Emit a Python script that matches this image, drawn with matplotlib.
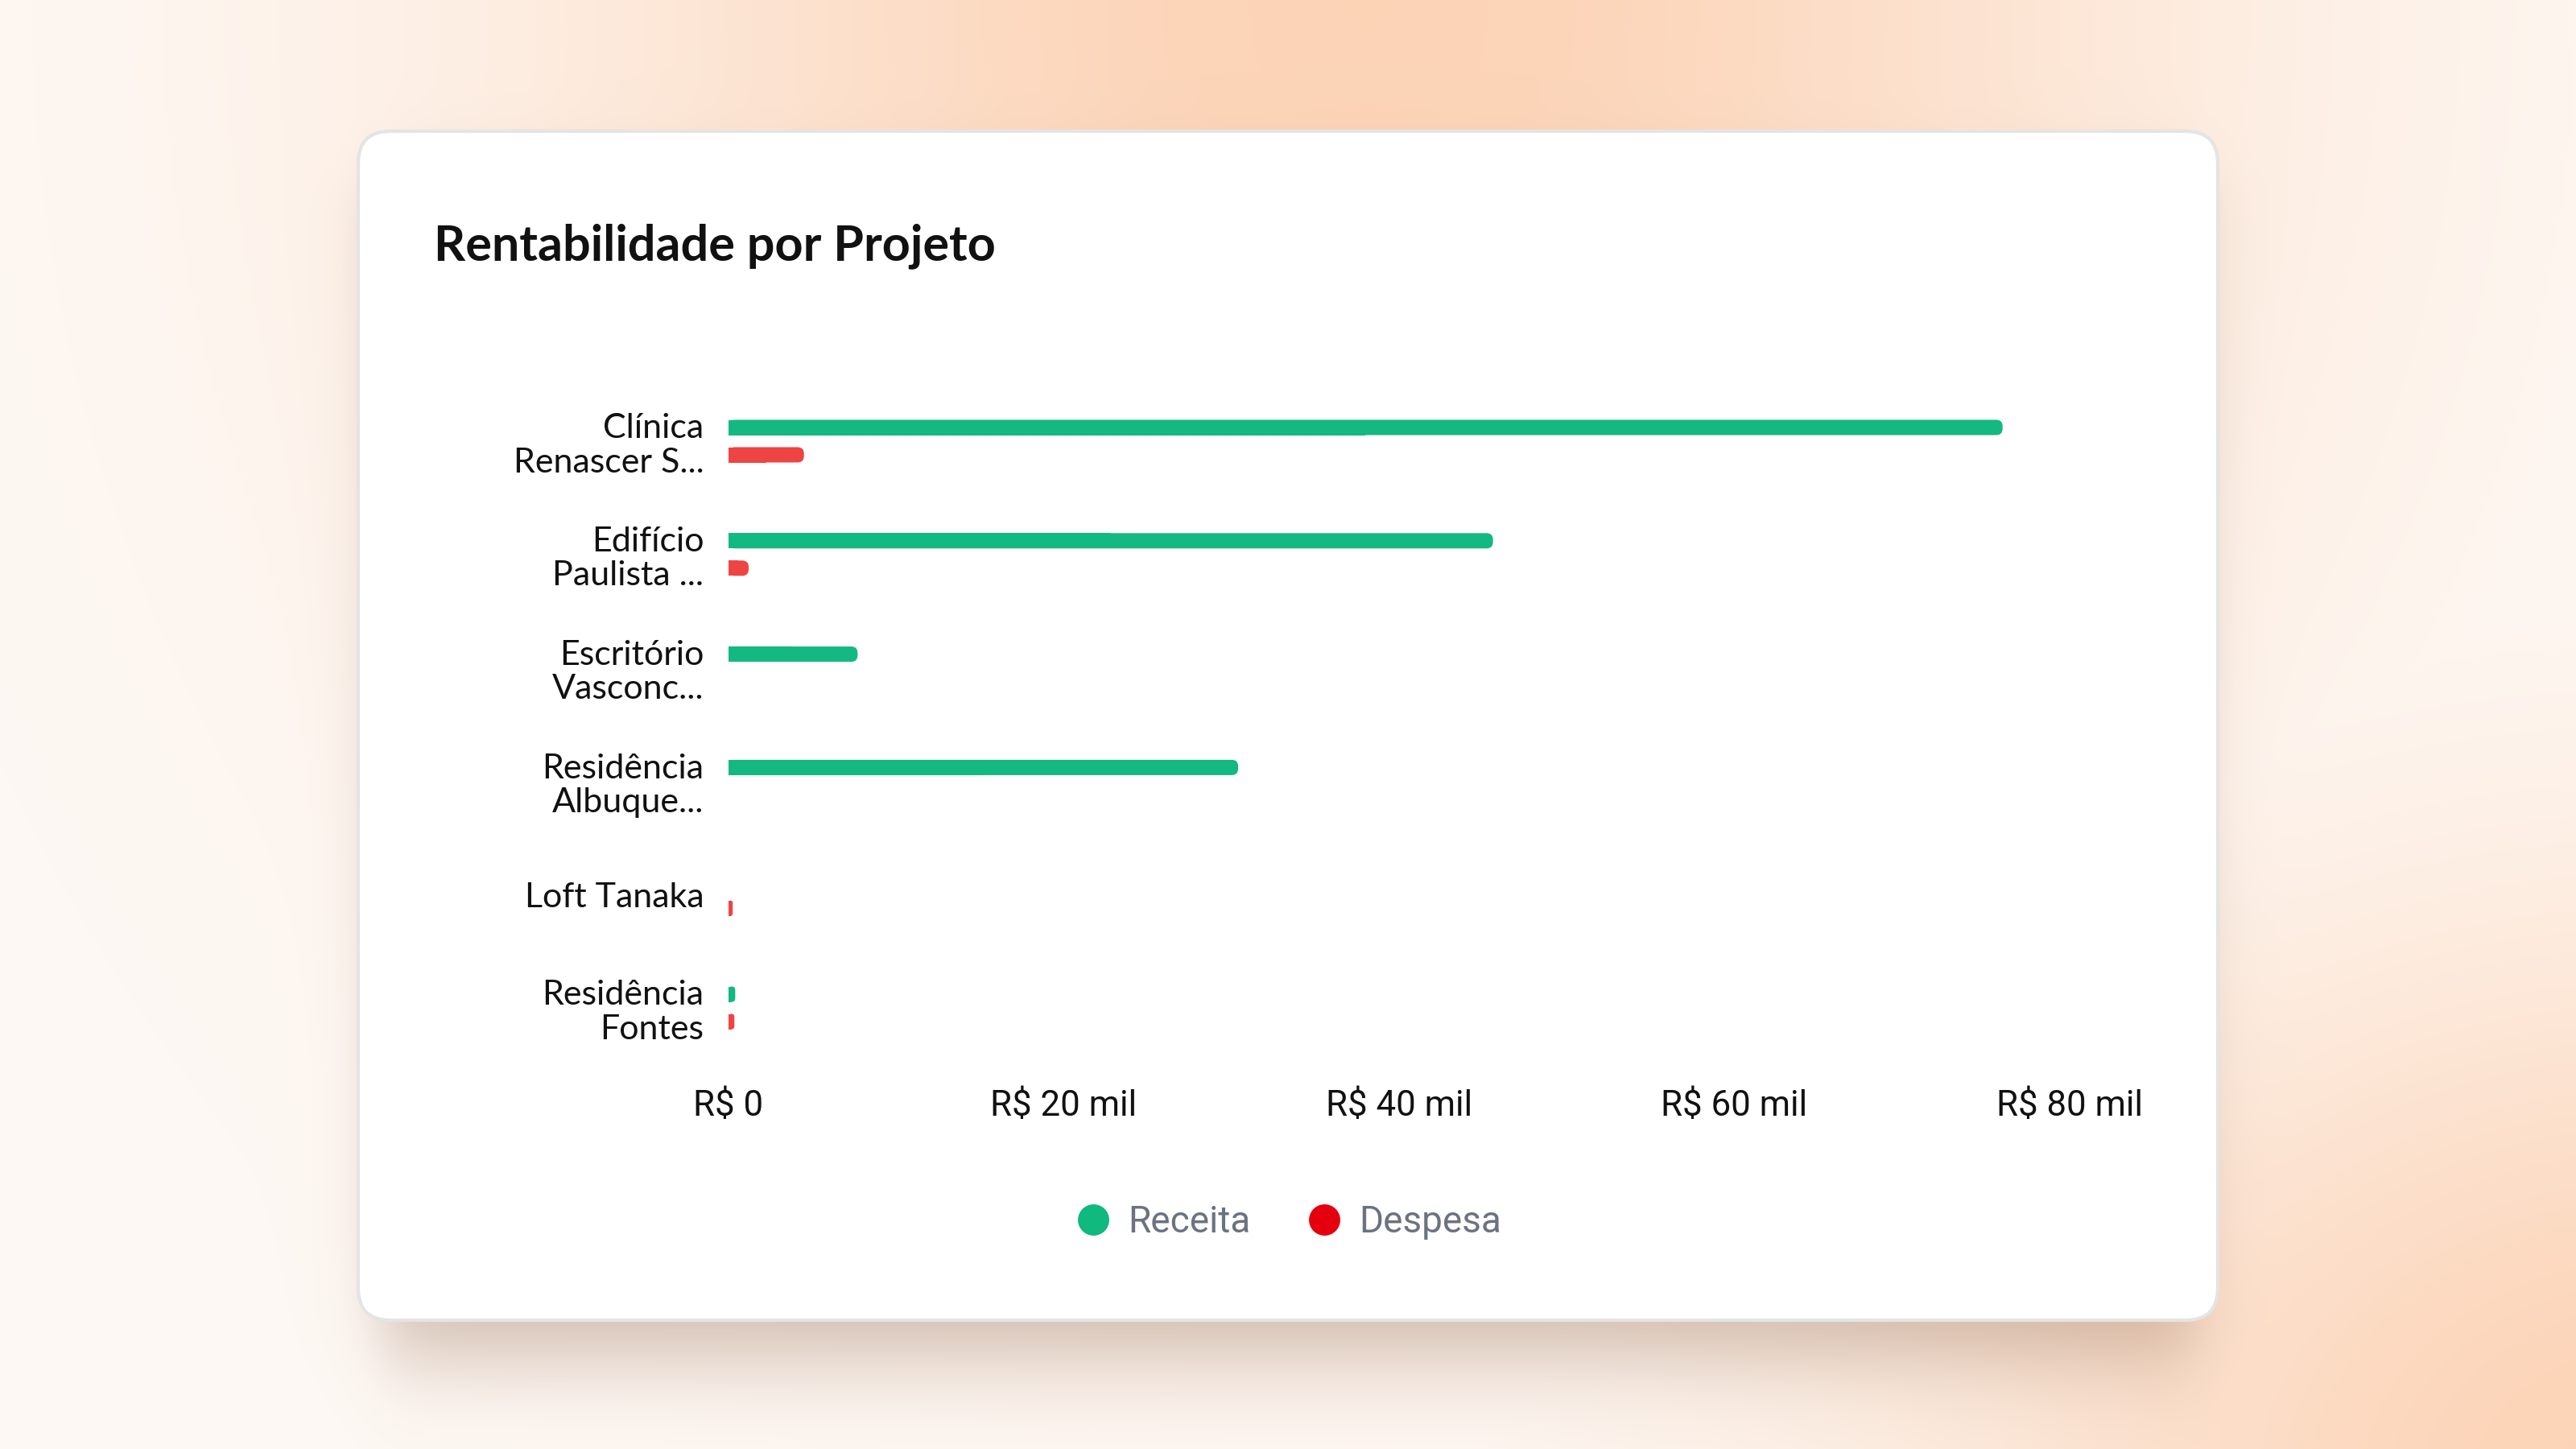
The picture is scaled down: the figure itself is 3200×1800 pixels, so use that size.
import numpy as np
import matplotlib
matplotlib.use('Agg')
import matplotlib.pyplot as plt
from matplotlib.patches import FancyBboxPatch, BoxStyle
from matplotlib.lines import Line2D

# data
projetos = ['Clínica\nRenascer S...', 'Edifício\nPaulista ...', 'Escritório\nVasconc...',
            'Residência\nAlbuque...', 'Loft Tanaka', 'Residência\nFontes']
receita = [76000, 45600, 7700, 30400, 0, 400]
despesa = [4500, 1200, 0, 0, 250, 350]
ticks = [0, 20000, 40000, 60000, 80000]
tick_labels = ['R$ 0', 'R$ 20 mil', 'R$ 40 mil', 'R$ 60 mil', 'R$ 80 mil']

W, H = 3200, 1800
GREEN, RED = '#14b881', '#ef4444'
GREEN_LEG, RED_LEG = '#10b97d', '#e5000d'

fig = plt.figure(figsize=(32, 18), dpi=100)

# background: soft peach gradient + card shadow
bg_ax = fig.add_axes([0, 0, 1, 1])
bg_ax.set_xlim(0, W)
bg_ax.set_ylim(H, 0)
bg_ax.axis('off')

xx, yy = np.meshgrid(np.arange(W), np.arange(H))
white = np.array([254, 249, 245]) / 255
peach = np.array([252, 210, 180]) / 255
w1 = np.exp(-((xx - 1700) / 1000.0) ** 2 - (yy / 1100.0) ** 2)
w2 = np.exp(-((xx - 3300) / 900.0) ** 2 - ((yy - 1850) / 700.0) ** 2)
wgt = np.clip(0.97 * np.maximum(w1, w2), 0, 1)[..., None]
img = white * (1 - wgt) + peach * wgt

card = (445, 163, 2755, 1640)


def sig(d, s):
    return 0.5 * (1 + np.tanh(d / s))


sh = (sig(xx - (card[0] + 30), 45) * sig((card[2] - 30) - xx, 45)
      * sig(yy - (card[1] + 60), 45) * sig((card[3] + 40) - yy, 70))
shadow_col = np.array([150, 110, 85]) / 255
a = (0.45 * sh)[..., None]
img = img * (1 - a) + shadow_col * a
bg_ax.imshow(img, extent=(0, W, H, 0), aspect='auto', zorder=0)

bg_ax.add_patch(FancyBboxPatch((card[0], card[1]), card[2] - card[0], card[3] - card[1],
                               boxstyle=BoxStyle('Round', pad=0, rounding_size=40),
                               facecolor='white', edgecolor='#e4e4e4', linewidth=3, zorder=2))

fig.text(539 / W, 1 - 306 / H, 'Rentabilidade por Projeto', family='Lato', weight='bold',
         fontsize=44, color='#111111', ha='left', va='center')

x0, x1, y_top, y_bot = 905, 2571, 477.6, 1322.4
ax = fig.add_axes([x0 / W, 1 - y_bot / H, (x1 - x0) / W, (y_bot - y_top) / H])
ax.patch.set_alpha(0)
ax.set_xlim(0, 80000)
ax.set_ylim(len(projetos) - 0.5, -0.5)
for s in ax.spines.values():
    s.set_visible(False)

px_x = (x1 - x0) / 80000.0
px_y = (y_bot - y_top) / len(projetos)
bar_h = 19 / px_y
off = 17 / px_y
r_px = 8


def rounded_bar(y, w, color):
    if w <= 0:
        return
    dr = min(r_px / px_x, w / 2.0)
    ax.add_patch(FancyBboxPatch((0, y - bar_h / 2), w, bar_h,
                                boxstyle=BoxStyle('Round', pad=0, rounding_size=dr),
                                mutation_aspect=px_x / px_y, facecolor=color,
                                edgecolor='none', zorder=3))
    ax.barh(y, w / 2.0, height=bar_h, left=0, color=color, zorder=3)


pos = np.arange(len(projetos))
for i in pos:
    rounded_bar(i - off, receita[i], GREEN)
    rounded_bar(i + off, despesa[i], RED)

ax.set_yticks(pos)
ax.set_yticklabels(projetos, family='Lato', fontsize=31, color='#111111', linespacing=1.13)
ax.set_xticks(ticks)
ax.set_xticklabels(tick_labels, family='Roboto', fontsize=31.5, color='#111111')
ax.tick_params(axis='y', length=0, pad=22)
ax.tick_params(axis='x', length=0, pad=22)

handles = [Line2D([], [], marker='o', linestyle='none', markersize=28,
                  markerfacecolor=GREEN_LEG, markeredgecolor='none', label='Receita'),
           Line2D([], [], marker='o', linestyle='none', markersize=28,
                  markerfacecolor=RED_LEG, markeredgecolor='none', label='Despesa')]
leg = fig.legend(handles=handles, loc='center', bbox_to_anchor=(0.5, 1 - 1518 / H), ncol=2,
                 frameon=False, handlelength=1.0, handletextpad=0.45, columnspacing=1.5,
                 prop={'family': 'Roboto', 'size': 33})
for t in leg.get_texts():
    t.set_color('#6b7280')

fig.savefig('out.png', dpi=100)
